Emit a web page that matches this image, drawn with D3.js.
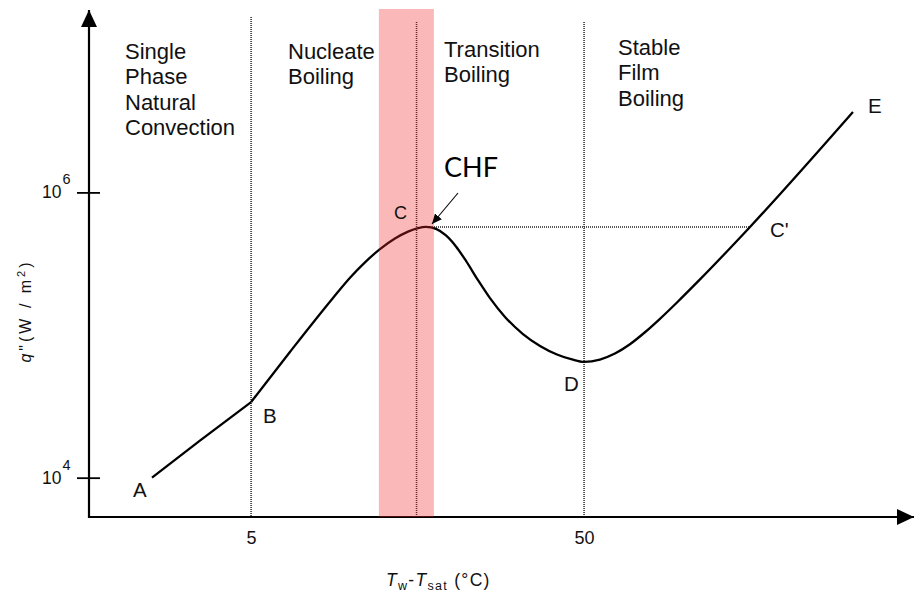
<!DOCTYPE html>
<html>
<head>
<meta charset="utf-8">
<script src="https://cdn.jsdelivr.net/npm/d3@7"></script>
<style>
body { margin: 0; background: #fff; }
svg { display: block; font-family: "Liberation Sans", Arial, sans-serif; }
</style>
</head>
<body>
<svg id="chart" width="915" height="595"></svg>
<script>
// boiling curve  q'' vs Tw-Tsat, log-log
const xDomain = [1.63, 493];
const yDomain = [5.3e3, 1.9e7];
const xTicks = [5, 50];
const yTicks = [1e4, 1e6];
const yTickExp = ["4", "6"];

// natural convection part A -> B
const curveAB = [[2.52, 1.0e4], [3.51, 1.82e4], [5, 3.39e4]];
// B -> C -> D -> C' -> E
const curveBE = [[5, 3.39e4], [6.54, 7.61e4], [8.81, 1.82e5], [9.91, 2.522e5], [10.99, 3.234e5],
	[12.19, 4.001e5], [13.52, 4.748e5], [14.80, 5.309e5], [15.86, 5.617e5], [16.76, 5.727e5],
	[17.96, 5.545e5], [19.24, 4.992e5], [20.62, 4.179e5], [22.10, 3.308e5], [24.01, 2.426e5],
	[26.09, 1.814e5], [28.94, 1.339e5], [32.77, 1.016e5], [36.87, 8.384e4], [41.46, 7.308e4],
	[46.0, 6.742e4], [50, 6.477e4], [55.79, 6.731e4], [61.89, 7.415e4], [68.66, 8.618e4],
	[76.17, 1.046e5], [84.51, 1.300e5], [95.07, 1.692e5], [111.45, 2.454e5], [157.5, 5.727e5],
	[321.1, 3.668e6]];

const regionBounds = [5, 15.7, 50];
const chfBand = [12.1, 17.7];
const chfLine = [[16.76, 5.727e5], [157.5, 5.727e5]];

const pointNames = ["A", "B", "C", "C'", "D", "E"];
const pointValues = [[2.52, 1.0e4], [5, 3.39e4], [16.76, 5.727e5], [157.5, 5.727e5], [50, 6.477e4], [321.1, 3.668e6]];

const regionNames = [
	["Single", "Phase", "Natural", "Convection"],
	["Nucleate", "Boiling"],
	["Transition", "Boiling"],
	["Stable", "Film", "Boiling"]
];

const svg = d3.select('#chart');

const x = d3.scaleLog().domain(xDomain).range([89, 915]);
const y = d3.scaleLog().domain(yDomain).range([517, 10]);

const defs = svg.append('defs');
defs.append('marker')
	.attr('id', 'head')
	.attr('markerUnits', 'userSpaceOnUse')
	.attr('markerWidth', 18).attr('markerHeight', 16)
	.attr('refX', 17).attr('refY', 8)
	.attr('orient', 'auto')
	.append('path').attr('d', 'M0,0 L17,8 L0,16 Z').attr('fill', '#000');
defs.append('marker')
	.attr('id', 'small')
	.attr('markerUnits', 'userSpaceOnUse')
	.attr('markerWidth', 11).attr('markerHeight', 9)
	.attr('refX', 10).attr('refY', 4.5)
	.attr('orient', 'auto')
	.append('path').attr('d', 'M0,0 L10,4.5 L0,9 Z').attr('fill', '#000');

// dotted region lines
svg.selectAll('.region-line')
	.data(regionBounds)
	.join('line')
	.attr('class', 'region-line')
	.attr('x1', d => x(d)).attr('x2', d => x(d))
	.attr('y1', (d, i) => i == 0 ? 17 : 22)
	.attr('y2', y(yDomain[0]))
	.attr('stroke', '#222')
	.attr('stroke-width', 1.5)
	.attr('stroke-dasharray', '1,1');

// CHF level
svg.append('line')
	.attr('x1', x(chfLine[0][0])).attr('x2', x(chfLine[1][0]))
	.attr('y1', y(chfLine[0][1])).attr('y2', y(chfLine[1][1]))
	.attr('stroke', '#222')
	.attr('stroke-width', 1.5)
	.attr('stroke-dasharray', '1,1');

// the curve
let line = d3.line()
	.x(d => x(d[0]))
	.y(d => y(d[1]))
	.curve(d3.curveMonotoneX);

[curveAB, curveBE].forEach(function(c) {
	svg.append('path')
		.attr('d', line(c))
		.attr('fill', 'none')
		.attr('stroke', '#000')
		.attr('stroke-width', 2.3)
		.attr('stroke-linejoin', 'round');
});

// axes
let yAxis = d3.axisLeft(y).tickValues(yTicks).tickSizeInner(12).tickSizeOuter(0).tickFormat('');
let gy = svg.append('g').attr('transform', 'translate(' + x(xDomain[0]) + ',0)').call(yAxis);
gy.select('.domain').remove();
gy.selectAll('.tick line').attr('x1', 11).attr('stroke-width', 1.8);

yTicks.forEach(function(t, i) {
	let txt = svg.append('text')
		.attr('x', 42).attr('y', y(t) + 6)
		.attr('font-size', 17.5)
		.attr('fill', '#111');
	txt.append('tspan').text('10');
	txt.append('tspan').attr('dy', -14).attr('dx', 1).attr('font-size', 14.5).text(yTickExp[i]);
});

let xAxis = d3.axisBottom(x).tickValues(xTicks).tickSize(0).tickFormat(d3.format('d'));
let gx = svg.append('g').attr('transform', 'translate(0,' + y(yDomain[0]) + ')').call(xAxis);
gx.select('.domain').remove();
gx.selectAll('.tick text')
	.attr('y', 27).attr('dy', 0)
	.attr('font-size', 18)
	.attr('font-family', '"Liberation Sans", Arial, sans-serif')
	.attr('fill', '#111');

svg.append('line')
	.attr('x1', 89).attr('x2', 89)
	.attr('y1', 518).attr('y2', 10)
	.attr('stroke', '#000').attr('stroke-width', 2.2)
	.attr('marker-end', 'url(#head)');
svg.append('line')
	.attr('x1', 88).attr('x2', 914)
	.attr('y1', 517).attr('y2', 517)
	.attr('stroke', '#000').attr('stroke-width', 2.2)
	.attr('marker-end', 'url(#head)');

// pink CHF band, semi transparent over the curve
svg.append('rect')
	.attr('x', x(chfBand[0]))
	.attr('width', x(chfBand[1]) - x(chfBand[0]))
	.attr('y', 9)
	.attr('height', y(yDomain[0]) - 9)
	.attr('fill', 'rgb(242,40,40)')
	.attr('opacity', 0.33);

// region labels
const regionX = [125, 288, 444, 618];
const regionY = [59, 59, 57, 55];
regionNames.forEach(function(lines, i) {
	let t = svg.append('text')
		.attr('x', regionX[i]).attr('y', regionY[i])
		.attr('font-size', 22)
		.attr('fill', '#111');
	lines.forEach(function(s, j) {
		t.append('tspan').attr('x', regionX[i]).attr('dy', j == 0 ? 0 : 25.3).text(s);
	});
});

// point labels
const labelOffset = [[-19, 19], [12, 21], [-32, -8], [20, 10], [-20, 29], [15, 1]];
svg.selectAll('.pt')
	.data(pointNames)
	.join('text')
	.attr('class', 'pt')
	.attr('x', (d, i) => x(pointValues[i][0]) + labelOffset[i][0])
	.attr('y', (d, i) => y(pointValues[i][1]) + labelOffset[i][1])
	.attr('font-size', (d, i) => i == 2 ? 18 : 20.5)
	.attr('fill', '#111')
	.text(d => d);

// CHF annotation
svg.append('text')
	.attr('x', 444).attr('y', 177)
	.attr('font-family', 'Lato, "Open Sans", sans-serif')
	.attr('font-size', 27)
	.attr('fill', '#000')
	.text('CHF');
svg.append('line')
	.attr('x1', 458).attr('y1', 193)
	.attr('x2', 432).attr('y2', 224)
	.attr('stroke', '#000').attr('stroke-width', 1.1)
	.attr('marker-end', 'url(#small)');

// axis titles
let xt = svg.append('text')
	.attr('x', 386).attr('y', 586)
	.attr('font-size', 17.5)
	.attr('letter-spacing', 1.3)
	.attr('fill', '#111');
xt.append('tspan').attr('font-style', 'italic').text('T');
xt.append('tspan').attr('font-size', 12.5).attr('dy', 4).text('w');
xt.append('tspan').attr('dy', -4).text('-');
xt.append('tspan').attr('font-style', 'italic').text('T');
xt.append('tspan').attr('font-size', 12.5).attr('dy', 4).text('sat');
xt.append('tspan').attr('dy', -4).text(' (°C)');

let yt = svg.append('text')
	.attr('transform', 'translate(31,311) rotate(-90)')
	.attr('text-anchor', 'middle')
	.attr('font-size', 16)
	.attr('letter-spacing', 3)
	.attr('fill', '#111');
yt.append('tspan').attr('font-style', 'italic').text('q');
yt.append('tspan').text('"(W / m');
yt.append('tspan').attr('font-size', 11).attr('dy', -6).text('2');
yt.append('tspan').attr('dy', 6).text(')');
</script>
</body>
</html>
